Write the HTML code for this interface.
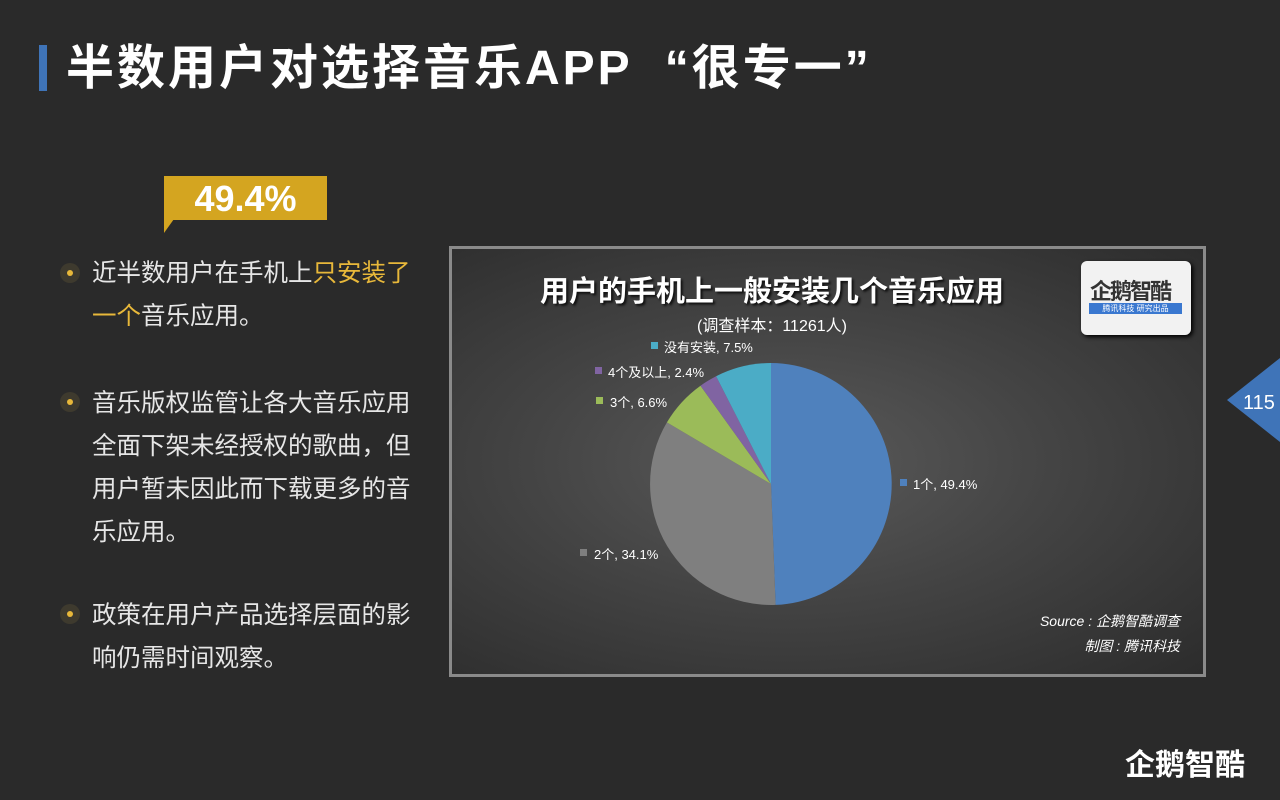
<!DOCTYPE html>
<html><head><meta charset="utf-8"><style>
body{margin:0;width:1280px;height:800px;background:#2a2a2a;position:relative;overflow:hidden;font-family:"Liberation Sans","Noto Sans CJK SC",sans-serif;color:#eee}
.a{position:absolute}
</style></head><body>
<div class="a" style="left:39px;top:45px;width:8px;height:46px;background:#3f74b8"></div>
<div class="a" style="left:66px;top:37px;font-size:48px;font-weight:bold;color:#fff;white-space:nowrap;line-height:64px;letter-spacing:3px">半数用户对选择音乐APP<span style="display:inline-block;width:32px"></span>“很专一”</div>
<div class="a" style="left:164px;top:176px;width:163px;height:44px;background:#d4a520"></div>
<div class="a" style="left:164px;top:219px;width:0;height:0;border-top:14px solid #d4a520;border-right:10px solid transparent"></div>
<div class="a" style="left:164px;top:176px;width:163px;height:44px;line-height:46px;text-align:center;font-size:36px;font-weight:bold;color:#fff">49.4%</div>
<div class="a" style="left:60px;top:263px;width:20px;height:20px;border-radius:50%;background:#3e3a2e"></div><div class="a" style="left:67px;top:270px;width:6px;height:6px;border-radius:50%;background:#e8b83a"></div>
<div class="a" style="left:60px;top:392px;width:20px;height:20px;border-radius:50%;background:#3e3a2e"></div><div class="a" style="left:67px;top:399px;width:6px;height:6px;border-radius:50%;background:#e8b83a"></div>
<div class="a" style="left:60px;top:604px;width:20px;height:20px;border-radius:50%;background:#3e3a2e"></div><div class="a" style="left:67px;top:611px;width:6px;height:6px;border-radius:50%;background:#e8b83a"></div>
<div class="a" style="left:92px;top:252px;width:330px;font-size:24.5px;line-height:43px;color:#e6e6e6">近半数用户在手机上<span style="color:#e8b83a">只安装了一个</span>音乐应用。</div>
<div class="a" style="left:92px;top:382px;width:330px;font-size:24.5px;line-height:43px;color:#e6e6e6">音乐版权监管让各大音乐应用全面下架未经授权的歌曲，但用户暂未因此而下载更多的音乐应用。</div>
<div class="a" style="left:92px;top:594px;width:330px;font-size:24.5px;line-height:43px;color:#e6e6e6">政策在用户产品选择层面的影响仍需时间观察。</div>
<div class="a" style="left:449px;top:246px;width:751px;height:425px;border:3px solid #8a8a8a;background:radial-gradient(ellipse at 45% 50%,#5a5a5a 0%,#444 45%,#2c2c2c 100%)"></div>
<div class="a" style="left:452px;top:268px;width:640px;text-align:center;font-size:29px;font-weight:bold;color:#fff;text-shadow:2px 2px 2px #111">用户的手机上一般安装几个音乐应用</div>
<div class="a" style="left:452px;top:312px;width:640px;text-align:center;font-size:16px;color:#fff">(调查样本：11261人)</div>
<div class="a" style="left:1081px;top:261px;width:110px;height:74px;background:#f2f2f2;border-radius:6px;box-shadow:2px 2px 4px #000"></div>
<div class="a" style="left:1090px;top:274px;font-size:22px;font-weight:bold;color:#333;letter-spacing:-2px">企鹅智酷</div>
<div class="a" style="left:1089px;top:303px;width:93px;height:11px;background:#3a78d0;font-size:8px;line-height:11px;color:#fff;text-align:center">腾讯科技 研究出品</div>
<svg class="a" style="left:0;top:0" width="1280" height="800">
<path d="M771,484 L771,363 A121,121 0 0 1 775.6,604.9Z" fill="#4f81bd"/>
<path d="M771,484 L775.6,604.9 A121,121 0 0 1 666.9,422.4Z" fill="#7f7f7f"/>
<path d="M771,484 L666.9,422.4 A121,121 0 0 1 700.5,385.7Z" fill="#9bbb59"/>
<path d="M771,484 L700.5,385.7 A121,121 0 0 1 716.1,376.2Z" fill="#8064a2"/>
<path d="M771,484 L716.1,376.2 A121,121 0 0 1 771,363Z" fill="#4bacc6"/>
<rect x="651" y="342" width="7" height="7" fill="#4bacc6"/>
<rect x="595" y="367" width="7" height="7" fill="#8064a2"/>
<rect x="596" y="397" width="7" height="7" fill="#9bbb59"/>
<rect x="900" y="479" width="7" height="7" fill="#4f81bd"/>
<rect x="580" y="549" width="7" height="7" fill="#7f7f7f"/>
<g font-family="Liberation Sans,Noto Sans CJK SC,sans-serif" font-size="13" fill="#fff">
<text x="664" y="352">没有安装, 7.5%</text>
<text x="608" y="377">4个及以上, 2.4%</text>
<text x="610" y="407">3个, 6.6%</text>
<text x="913" y="489">1个, 49.4%</text>
<text x="594" y="559">2个, 34.1%</text>
<text x="1180" y="626" text-anchor="end" font-style="italic" font-size="14">Source : 企鹅智酷调查</text>
<text x="1180" y="651" text-anchor="end" font-style="italic" font-size="14">制图 : 腾讯科技</text>
</g>
<polygon points="1227,400 1280,358 1280,442" fill="#3f74b8"/>
<text x="1259" y="409" text-anchor="middle" font-family="Liberation Sans,sans-serif" font-size="20" fill="#fff">115</text>
<text x="1125" y="775" font-family="Liberation Sans,Noto Sans CJK SC,sans-serif" font-size="30" font-weight="bold" fill="#fff">企鹅智酷</text>
</svg>
</body></html>
